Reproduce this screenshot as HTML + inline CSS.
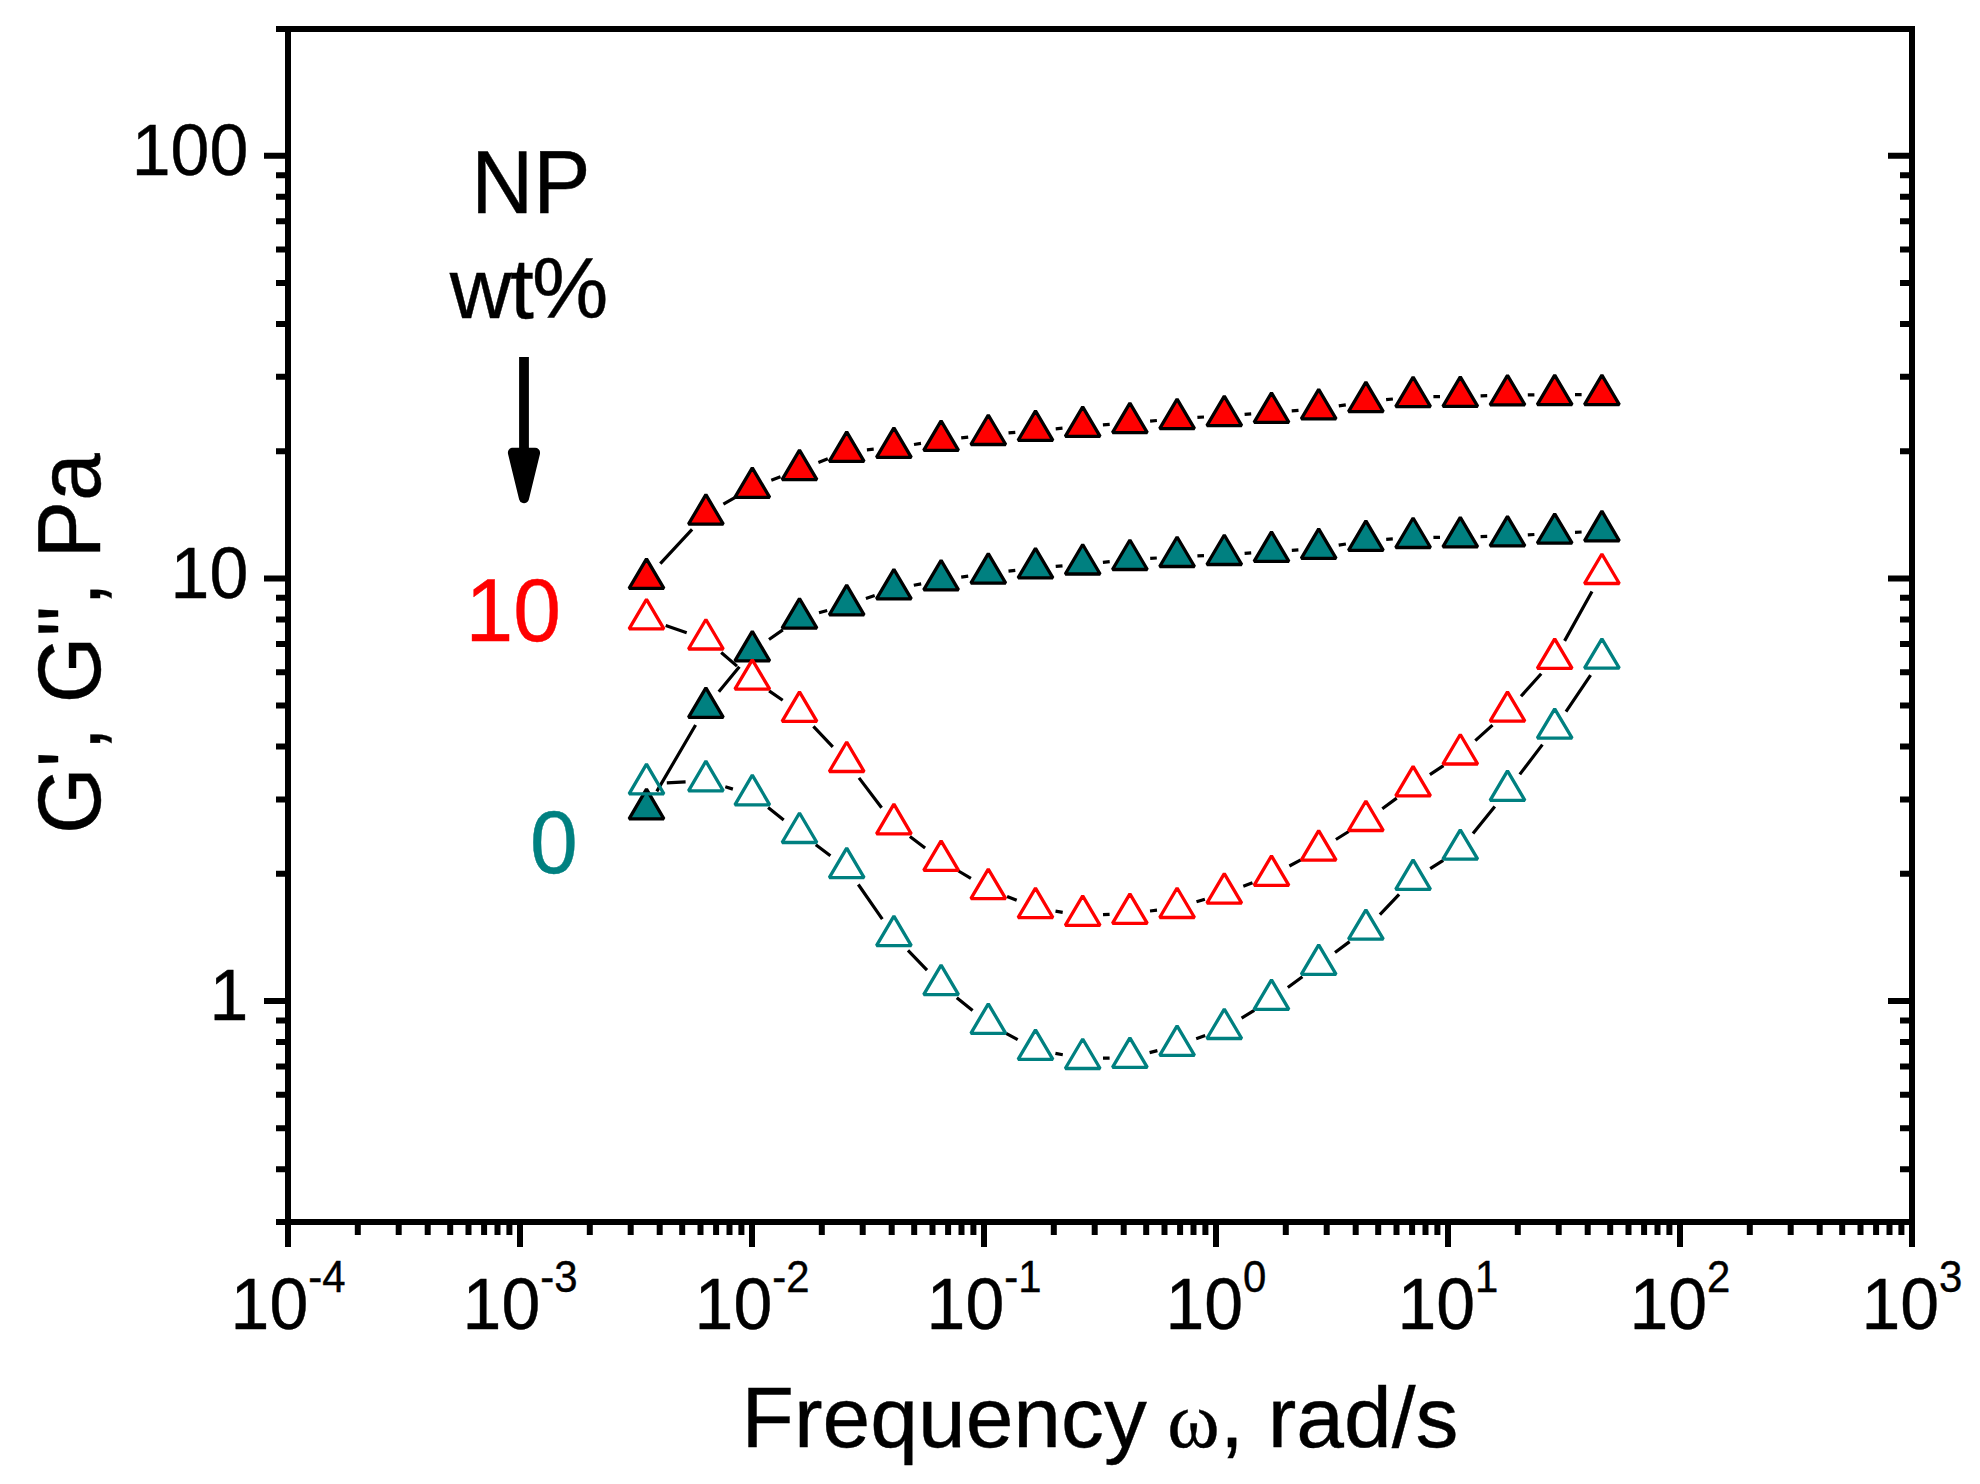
<!DOCTYPE html>
<html lang="en"><head><meta charset="utf-8"><title>G', G", Pa vs Frequency</title>
<style>html,body{margin:0;padding:0;background:#fff}svg{display:block}text{font-family:"Liberation Sans",Arial,Helvetica,sans-serif;fill:#000;stroke:#000;stroke-width:.4px;font-kerning:none;white-space:pre}.om{font-family:"Liberation Serif","DejaVu Serif",serif}</style></head><body>
<svg width="1980" height="1484" viewBox="0 0 1980 1484">
<rect width="1980" height="1484" fill="#fff"/>
<g><path d="M660.3 563.7L692.1 529.3M723.4 504.2L734.8 497.6M771.3 480.3L780.5 476.8M818.4 462.4L827.8 458.8M866.9 449.8L873.7 449.2M914.0 444.5L921.0 443.4M961.2 437.9L968.2 437.1M1008.5 432.9L1015.3 432.3M1055.7 428.8L1062.5 428.2M1102.9 424.9L1109.7 424.4M1150.1 421.1L1156.9 420.5M1197.4 417.4L1204.0 417.0M1244.6 414.3L1251.2 413.8M1291.7 410.9L1298.5 410.4M1338.8 405.9L1345.8 404.8M1386.1 399.7L1392.9 399.0M1433.4 396.7L1440.0 396.6M1480.6 395.9L1487.2 395.7M1527.8 394.9L1534.4 394.8M1575.0 394.7L1581.6 394.7" fill="none" stroke="#000" stroke-width="3.2"/>
<path d="M646.5 558.9L663.9 588.4L629.1 588.4ZM705.9 494.7L723.3 524.2L688.5 524.2ZM752.3 467.8L769.7 497.3L734.9 497.3ZM799.5 450.1L816.9 479.6L782.1 479.6ZM846.7 431.9L864.1 461.4L829.3 461.4ZM893.9 427.9L911.3 457.4L876.5 457.4ZM941.1 420.8L958.5 450.3L923.7 450.3ZM988.3 415.0L1005.7 444.5L970.9 444.5ZM1035.5 410.9L1052.9 440.4L1018.1 440.4ZM1082.7 406.9L1100.1 436.4L1065.3 436.4ZM1129.9 403.2L1147.3 432.7L1112.5 432.7ZM1177.1 399.1L1194.5 428.6L1159.7 428.6ZM1224.3 396.1L1241.7 425.6L1206.9 425.6ZM1271.5 392.8L1288.9 422.3L1254.1 422.3ZM1318.7 389.3L1336.1 418.8L1301.3 418.8ZM1365.9 382.2L1383.3 411.7L1348.5 411.7ZM1413.1 377.2L1430.5 406.7L1395.7 406.7ZM1460.3 376.9L1477.7 406.4L1442.9 406.4ZM1507.5 375.4L1524.9 404.9L1490.1 404.9ZM1554.7 375.1L1572.1 404.6L1537.3 404.6ZM1601.9 375.1L1619.3 404.6L1584.5 404.6Z" fill="#ff0000" stroke="#000" stroke-width="3.3" stroke-linejoin="bevel"/></g>
<g><path d="M656.8 791.4L695.6 725.0M718.8 691.8L739.4 666.8M769.0 639.5L782.8 629.9M819.0 612.8L827.2 610.5M865.9 598.4L874.7 595.5M913.8 585.3L921.2 583.9M961.2 577.2L968.2 576.2M1008.5 571.1L1015.3 570.3M1055.7 566.4L1062.5 565.8M1102.9 562.3L1109.7 561.6M1150.2 558.4L1156.8 558.0M1197.4 555.9L1204.0 555.6M1244.6 553.4L1251.2 552.9M1291.8 550.3L1298.4 549.9M1338.7 545.2L1345.9 544.0M1386.2 539.3L1392.8 538.9M1433.4 537.4L1440.0 537.3M1480.6 536.6L1487.2 536.4M1527.8 534.9L1534.4 534.5M1575.0 532.3L1581.6 532.0" fill="none" stroke="#000" stroke-width="3.2"/>
<path d="M646.5 789.2L663.9 818.8L629.1 818.8ZM705.9 687.9L723.3 717.4L688.5 717.4ZM752.3 631.4L769.7 660.9L734.9 660.9ZM799.5 598.6L816.9 628.1L782.1 628.1ZM846.7 585.2L864.1 614.8L829.3 614.8ZM893.9 569.4L911.3 598.9L876.5 598.9ZM941.1 560.4L958.5 589.9L923.7 589.9ZM988.3 553.6L1005.7 583.1L970.9 583.1ZM1035.5 548.4L1052.9 577.9L1018.1 577.9ZM1082.7 544.5L1100.1 574.0L1065.3 574.0ZM1129.9 540.0L1147.3 569.5L1112.5 569.5ZM1177.1 537.0L1194.5 566.5L1159.7 566.5ZM1224.3 535.0L1241.7 564.5L1206.9 564.5ZM1271.5 531.9L1288.9 561.4L1254.1 561.4ZM1318.7 528.9L1336.1 558.4L1301.3 558.4ZM1365.9 520.9L1383.3 550.4L1348.5 550.4ZM1413.1 518.0L1430.5 547.5L1395.7 547.5ZM1460.3 517.4L1477.7 546.9L1442.9 546.9ZM1507.5 516.4L1524.9 545.9L1490.1 545.9ZM1554.7 513.8L1572.1 543.2L1537.3 543.2ZM1601.9 511.2L1619.3 540.8L1584.5 540.8Z" fill="#008080" stroke="#000" stroke-width="3.3" stroke-linejoin="bevel"/></g>
<g><path d="M665.7 625.6L686.7 632.7M721.2 652.5L737.0 666.1M769.1 690.9L782.7 700.2M813.4 726.4L832.8 746.9M859.0 777.9L881.6 807.7M909.9 836.4L925.1 848.1M958.5 871.0L970.9 878.4M1007.1 896.4L1016.7 900.2M1055.5 911.1L1062.7 912.3M1103.0 914.7L1109.6 914.4M1150.0 911.0L1157.0 910.2M1196.5 901.8L1204.9 899.2M1243.3 886.2L1252.5 882.7M1289.4 866.0L1300.8 859.9M1335.9 839.5L1348.7 831.5M1382.3 808.7L1396.7 798.1M1429.9 774.7L1443.5 765.6M1475.3 740.6L1492.5 725.1M1521.0 696.3L1541.2 673.8M1564.6 640.9L1592.0 591.5" fill="none" stroke="#000" stroke-width="3.2"/>
<path d="M646.5 599.4L663.9 628.9L629.1 628.9ZM705.9 619.5L723.3 649.0L688.5 649.0ZM752.3 659.8L769.7 689.2L734.9 689.2ZM799.5 691.9L816.9 721.4L782.1 721.4ZM846.7 742.0L864.1 771.5L829.3 771.5ZM893.9 804.2L911.3 833.8L876.5 833.8ZM941.1 840.9L958.5 870.4L923.7 870.4ZM988.3 869.1L1005.7 898.6L970.9 898.6ZM1035.5 888.1L1052.9 917.6L1018.1 917.6ZM1082.7 895.9L1100.1 925.4L1065.3 925.4ZM1129.9 893.9L1147.3 923.4L1112.5 923.4ZM1177.1 888.0L1194.5 917.5L1159.7 917.5ZM1224.3 873.6L1241.7 903.1L1206.9 903.1ZM1271.5 855.9L1288.9 885.4L1254.1 885.4ZM1318.7 830.6L1336.1 860.1L1301.3 860.1ZM1365.9 801.0L1383.3 830.5L1348.5 830.5ZM1413.1 766.4L1430.5 795.9L1395.7 795.9ZM1460.3 734.5L1477.7 764.0L1442.9 764.0ZM1507.5 691.8L1524.9 721.2L1490.1 721.2ZM1554.7 638.9L1572.1 668.4L1537.3 668.4ZM1601.9 554.0L1619.3 583.5L1584.5 583.5Z" fill="none" stroke="#ff0000" stroke-width="3.3" stroke-linejoin="bevel"/></g>
<g><path d="M666.8 782.9L685.6 781.9M725.3 786.8L732.9 789.1M768.1 807.6L783.7 820.0M815.8 844.8L830.4 855.7M858.3 884.5L882.3 919.1M908.0 950.4L927.0 970.2M956.8 997.7L972.6 1010.6M1006.1 1033.3L1017.7 1039.7M1055.4 1053.4L1062.8 1054.8M1103.0 1058.2L1109.6 1058.1M1149.6 1052.6L1157.4 1050.6M1196.2 1038.7L1205.2 1035.5M1241.6 1018.1L1254.2 1010.3M1287.8 987.5L1302.4 976.7M1335.0 952.5L1349.6 941.6M1379.9 914.7L1399.1 894.4M1430.2 868.7L1443.2 860.4M1473.0 833.6L1494.8 806.4M1519.8 774.4L1542.4 744.6M1566.0 711.6L1590.6 675.2" fill="none" stroke="#000" stroke-width="3.2"/>
<path d="M646.5 764.2L663.9 793.8L629.1 793.8ZM705.9 761.2L723.3 790.8L688.5 790.8ZM752.3 775.2L769.7 804.8L734.9 804.8ZM799.5 813.0L816.9 842.5L782.1 842.5ZM846.7 848.1L864.1 877.6L829.3 877.6ZM893.9 916.1L911.3 945.6L876.5 945.6ZM941.1 965.1L958.5 994.6L923.7 994.6ZM988.3 1003.8L1005.7 1033.3L970.9 1033.3ZM1035.5 1029.8L1052.9 1059.3L1018.1 1059.3ZM1082.7 1039.0L1100.1 1068.5L1065.3 1068.5ZM1129.9 1037.9L1147.3 1067.4L1112.5 1067.4ZM1177.1 1025.8L1194.5 1055.3L1159.7 1055.3ZM1224.3 1009.1L1241.7 1038.5L1206.9 1038.5ZM1271.5 979.9L1288.9 1009.4L1254.1 1009.4ZM1318.7 944.9L1336.1 974.4L1301.3 974.4ZM1365.9 909.8L1383.3 939.2L1348.5 939.2ZM1413.1 859.9L1430.5 889.4L1395.7 889.4ZM1460.3 829.8L1477.7 859.2L1442.9 859.2ZM1507.5 770.9L1524.9 800.4L1490.1 800.4ZM1554.7 708.8L1572.1 738.2L1537.3 738.2ZM1601.9 638.8L1619.3 668.2L1584.5 668.2Z" fill="none" stroke="#008080" stroke-width="3.3" stroke-linejoin="bevel"/></g>
<g stroke="#000" stroke-width="6" fill="none">
<path d="M276 29.0H1915.0M276 1222.0H1915.0M288.0 26.0V1247M1912.0 26.0V1247"/>
<path d="M357.8 1222.0V1235M398.7 1222.0V1235M427.7 1222.0V1235M450.2 1222.0V1235M468.5 1222.0V1235M484.1 1222.0V1235M497.5 1222.0V1235M509.4 1222.0V1235M520.0 1222.0V1247M589.8 1222.0V1235M630.7 1222.0V1235M659.7 1222.0V1235M682.2 1222.0V1235M700.5 1222.0V1235M716.1 1222.0V1235M729.5 1222.0V1235M741.4 1222.0V1235M752.0 1222.0V1247M821.8 1222.0V1235M862.7 1222.0V1235M891.7 1222.0V1235M914.2 1222.0V1235M932.5 1222.0V1235M948.1 1222.0V1235M961.5 1222.0V1235M973.4 1222.0V1235M984.0 1222.0V1247M1053.8 1222.0V1235M1094.7 1222.0V1235M1123.7 1222.0V1235M1146.2 1222.0V1235M1164.5 1222.0V1235M1180.1 1222.0V1235M1193.5 1222.0V1235M1205.4 1222.0V1235M1216.0 1222.0V1247M1285.8 1222.0V1235M1326.7 1222.0V1235M1355.7 1222.0V1235M1378.2 1222.0V1235M1396.5 1222.0V1235M1412.1 1222.0V1235M1425.5 1222.0V1235M1437.4 1222.0V1235M1448.0 1222.0V1247M1517.8 1222.0V1235M1558.7 1222.0V1235M1587.7 1222.0V1235M1610.2 1222.0V1235M1628.5 1222.0V1235M1644.1 1222.0V1235M1657.5 1222.0V1235M1669.4 1222.0V1235M1680.0 1222.0V1247M1749.8 1222.0V1235M1790.7 1222.0V1235M1819.7 1222.0V1235M1842.2 1222.0V1235M1860.5 1222.0V1235M1876.1 1222.0V1235M1889.5 1222.0V1235M1901.4 1222.0V1235M1912.0 1222.0V1247"/>
<path d="M264 1001.0H288.0M1912.0 1001.0H1888M264 578.4H288.0M1912.0 578.4H1888M264 155.8H288.0M1912.0 155.8H1888M276 1169.2H288.0M1912.0 1169.2H1900M276 1128.2H288.0M1912.0 1128.2H1900M276 1094.8H288.0M1912.0 1094.8H1900M276 1066.5H288.0M1912.0 1066.5H1900M276 1042.0H288.0M1912.0 1042.0H1900M276 1020.4H288.0M1912.0 1020.4H1900M276 873.8H288.0M1912.0 873.8H1900M276 799.4H288.0M1912.0 799.4H1900M276 746.6H288.0M1912.0 746.6H1900M276 705.6H288.0M1912.0 705.6H1900M276 672.2H288.0M1912.0 672.2H1900M276 643.9H288.0M1912.0 643.9H1900M276 619.4H288.0M1912.0 619.4H1900M276 597.8H288.0M1912.0 597.8H1900M276 451.2H288.0M1912.0 451.2H1900M276 376.8H288.0M1912.0 376.8H1900M276 324.0H288.0M1912.0 324.0H1900M276 283.0H288.0M1912.0 283.0H1900M276 249.6H288.0M1912.0 249.6H1900M276 221.3H288.0M1912.0 221.3H1900M276 196.8H288.0M1912.0 196.8H1900M276 175.2H288.0M1912.0 175.2H1900"/>
</g>
<text transform="translate(248.2 175.2) scale(1 1.04)" font-size="69.8" text-anchor="end">100</text>
<text transform="translate(248.2 597.8) scale(1 1.04)" font-size="69.8" text-anchor="end">10</text>
<text transform="translate(248.2 1020.4) scale(1 1.04)" font-size="69.8" text-anchor="end">1</text>
<text transform="translate(230.6 1329.2) scale(1 1.04)" font-size="69.8">10<tspan font-size="41.9" dy="-35.5">-4</tspan></text>
<text transform="translate(462.6 1329.2) scale(1 1.04)" font-size="69.8">10<tspan font-size="41.9" dy="-35.5">-3</tspan></text>
<text transform="translate(694.6 1329.2) scale(1 1.04)" font-size="69.8">10<tspan font-size="41.9" dy="-35.5">-2</tspan></text>
<text transform="translate(926.6 1329.2) scale(1 1.04)" font-size="69.8">10<tspan font-size="41.9" dy="-35.5">-1</tspan></text>
<text transform="translate(1165.5 1329.2) scale(1 1.04)" font-size="69.8">10<tspan font-size="41.9" dy="-35.5">0</tspan></text>
<text transform="translate(1397.5 1329.2) scale(1 1.04)" font-size="69.8">10<tspan font-size="41.9" dy="-35.5">1</tspan></text>
<text transform="translate(1629.5 1329.2) scale(1 1.04)" font-size="69.8">10<tspan font-size="41.9" dy="-35.5">2</tspan></text>
<text transform="translate(1861.5 1329.2) scale(1 1.04)" font-size="69.8">10<tspan font-size="41.9" dy="-35.5">3</tspan></text>
<text transform="translate(741.5 1447.2)" font-size="85.8">Frequency</text>
<text transform="translate(1167.3 1447.4)" font-size="79.5" class="om">ω</text>
<text transform="translate(1220 1447.2)" font-size="85.8">, rad/s</text>
<text transform="translate(100.2 833.9) rotate(-90) scale(1 1.04)" font-size="85.8">G', G", Pa</text>
<text transform="translate(471.3 212.8) scale(1 1.04)" font-size="85.8">NP</text>
<text transform="translate(449.8 318.3)" font-size="85.8" textLength="158.6" lengthAdjust="spacing">wt%</text>
<text transform="translate(465.6 641.2) scale(1 1.04)" font-size="85.8" style="fill:#ff0000;stroke:#ff0000">10</text>
<text transform="translate(530 873.2) scale(1 1.04)" font-size="85.8" style="fill:#008080;stroke:#008080">0</text>
<path d="M524 357V456" stroke="#000" stroke-width="9.8" fill="none"/>
<path d="M512.9 452.7H535.1L524 498.2Z" fill="#000" stroke="#000" stroke-width="10" stroke-linejoin="round"/>
</svg></body></html>
